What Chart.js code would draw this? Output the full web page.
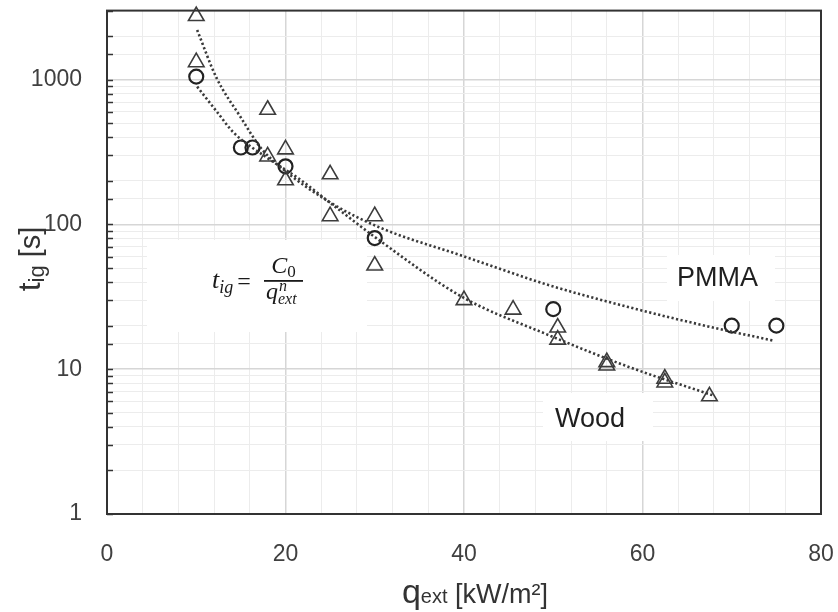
<!DOCTYPE html>
<html><head><meta charset="utf-8">
<script src="https://cdn.jsdelivr.net/npm/chart.js@4/dist/chart.umd.min.js"></script>
<style>html,body{margin:0;padding:0;background:#fff}#wrap{width:838px;height:612px}</style>
</head><body><div id="wrap"><canvas id="c" width="838" height="612"></canvas></div>
<script>
// ---- data ----
const triX = [10, 10, 18, 18, 20, 20, 25, 25, 30, 30, 40, 45.5, 50.5, 50.5, 56, 56, 62.5, 62.5, 67.5];
const triY = [2750, 1320, 620, 295, 330, 202, 222, 114, 114, 52, 30, 25.8, 19.4, 16, 11.2, 10.6, 8.6, 8.1, 6.5];
const circX = [10, 15, 16.3, 20, 30, 50, 70, 75];
const circY = [1050, 340, 340, 252, 80.5, 26, 20, 20];
const pmmaFitX = [10.1, 12.3, 14.9, 17.2, 19.4, 25, 30.6, 39.9, 49.2, 58.6, 67.9, 74.8];
const pmmaFitY = [2200, 1020, 560, 340, 250, 142, 95, 60.5, 38.6, 26.7, 19.4, 15.7];
const woodFitX = [10.1, 12.3, 14.2, 17.9, 21.6, 25.4, 30.6, 39.9, 49.2, 58.6, 67.9];
const woodFitY = [895, 602, 430, 290, 205, 135, 77, 31.3, 17.5, 10.3, 6.6];
const xTickLabels = [0, 20, 40, 60, 80];
const yTickLabels = [1, 10, 100, 1000];
const labelPMMA = 'PMMA';
const labelWood = 'Wood';

const pts = (xs, ys) => xs.map((x, i) => ({ x: x, y: ys[i] }));
const isDecade = v => Math.abs(Math.log10(v) - Math.round(Math.log10(v))) < 1e-9;
const SANS = '"Liberation Sans", Arial, sans-serif';
const SERIF = '"Liberation Serif", "DejaVu Serif", serif';

function drawSeq(ctx, x, y, parts) {
  let cx = x;
  for (const p of parts) {
    ctx.font = p[1];
    ctx.fillText(p[0], cx, y + (p[2] || 0));
    cx += ctx.measureText(p[0]).width;
  }
  return cx;
}
function seqWidth(ctx, parts) {
  let w = 0;
  for (const p of parts) { ctx.font = p[1]; w += ctx.measureText(p[0]).width; }
  return w;
}

const decor = {
  id: 'decor',
  beforeDatasetsDraw(chart) {
    const ctx = chart.ctx;
    ctx.save();
    ctx.fillStyle = '#ffffff';
    ctx.fillRect(147, 240, 220, 92);
    ctx.fillRect(667, 255, 108, 46);
    ctx.fillRect(543, 393, 110, 48);
    ctx.restore();
  },
  afterDatasetsDraw(chart) {
    const ctx = chart.ctx;
    ctx.save();
    ctx.fillStyle = '#1a1a1a';
    ctx.textBaseline = 'alphabetic';
    ctx.textAlign = 'left';
    // formula
    let x = drawSeq(ctx, 212, 288, [['t', 'italic 26px ' + SERIF], ['ig', 'italic 18px ' + SERIF, 5]]);
    ctx.font = '24px ' + SERIF;
    ctx.fillText('=', x + 4, 289);
    const fx0 = 264, fx1 = 303;
    ctx.fillRect(fx0, 280, fx1 - fx0, 1.8);
    const numParts = [['C', 'italic 24px ' + SERIF], ['0', '17px ' + SERIF, 4]];
    drawSeq(ctx, (fx0 + fx1) / 2 - seqWidth(ctx, numParts) / 2, 273, numParts);
    ctx.font = 'italic 24px ' + SERIF;
    ctx.fillText('q', 266, 299);
    const qw = ctx.measureText('q').width;
    ctx.font = 'italic 16px ' + SERIF;
    ctx.fillText('n', 266 + qw + 1, 291);
    ctx.fillText('ext', 266 + qw, 304);
    // labels
    ctx.fillStyle = '#1f1f1f';
    ctx.font = '27px ' + SANS;
    ctx.fillText(labelPMMA, 677, 286);
    ctx.fillText(labelWood, 555, 427);
    ctx.restore();
  },
  afterDraw(chart) {
    const ctx = chart.ctx;
    const a = chart.chartArea;
    const ys = chart.scales.y;
    ctx.save();
    ctx.strokeStyle = '#333';
    ctx.lineWidth = 1.5;
    for (const t of ys.ticks) {
      const py = Math.round(ys.getPixelForValue(t.value)) + 0.5;
      ctx.beginPath();
      ctx.moveTo(a.left, py);
      ctx.lineTo(a.left + 6, py);
      ctx.stroke();
    }
    ctx.strokeStyle = '#333';
    ctx.lineWidth = 2;
    ctx.strokeRect(a.left, a.top, a.right - a.left, a.bottom - a.top);
    ctx.fillStyle = '#333';
    ctx.textBaseline = 'alphabetic';
    const xt = [['q', '34px ' + SANS], ['ext', '20px ' + SANS], [' [kW/m\u00B2]', '27px ' + SANS]];
    const w = seqWidth(ctx, xt);
    drawSeq(ctx, 548 - w, 603, xt);
    ctx.translate(40, 259);
    ctx.rotate(-Math.PI / 2);
    const yt = [['t', '32px ' + SANS], ['ig', '22px ' + SANS, 4], [' [s]', '29px ' + SANS]];
    const w2 = seqWidth(ctx, yt);
    drawSeq(ctx, -w2 / 2, 0, yt);
    ctx.restore();
  }
};

const dotted = { showLine: true, pointRadius: 0, borderColor: '#3a3a3a', borderWidth: 2.6,
  borderDash: [2.2, 2.4], fill: false, cubicInterpolationMode: 'monotone' };

new Chart(document.getElementById('c'), {
  type: 'scatter',
  data: {
    datasets: [
      Object.assign({ label: 'PMMA fit', data: pts(pmmaFitX, pmmaFitY) }, dotted),
      Object.assign({ label: 'Wood fit', data: pts(woodFitX, woodFitY) }, dotted),
      { label: 'Triangles', data: pts(triX, triY), pointStyle: 'triangle', pointRadius: 9, clip: false,
        backgroundColor: 'rgba(0,0,0,0)', borderColor: '#3c3c3c', borderWidth: 1.6 },
      { label: 'Circles', data: pts(circX, circY), pointStyle: 'circle', pointRadius: 7, clip: false,
        backgroundColor: 'rgba(0,0,0,0)', borderColor: '#222', borderWidth: 2.2 }
    ]
  },
  options: {
    responsive: false, animation: false, devicePixelRatio: 1,
    layout: { padding: { top: 10, right: 17, left: 0, bottom: 0 } },
    plugins: { legend: { display: false }, tooltip: { enabled: false } },
    scales: {
      x: {
        type: 'linear', min: 0, max: 80,
        afterFit: s => { s.height = 98; s.paddingLeft = 0; s.paddingRight = 0; },
        border: { display: false },
        grid: { drawTicks: false,
          color: c => (c.tick && c.tick.value % 20 === 0) ? '#d6d6d6' : '#ececec',
          lineWidth: c => (c.tick && c.tick.value % 20 === 0) ? 1.5 : 1 },
        ticks: { stepSize: 4, autoSkip: false, maxRotation: 0, padding: 27, color: '#404040',
          font: { family: SANS, size: 23 },
          callback: v => xTickLabels.includes(v) ? String(v) : '' }
      },
      y: {
        type: 'logarithmic', min: 1, max: 3000,
        afterFit: s => { s.width = 107; s.paddingTop = 0; s.paddingBottom = 0; },
        border: { display: false },
        grid: { drawTicks: false,
          color: c => (c.tick && isDecade(c.tick.value)) ? '#d6d6d6' : '#ececec',
          lineWidth: c => (c.tick && isDecade(c.tick.value)) ? 1.5 : 1 },
        ticks: { autoSkip: false, padding: 25, color: '#404040',
          font: { family: SANS, size: 23 },
          callback: v => yTickLabels.includes(v) ? String(v) : '' }
      }
    }
  },
  plugins: [decor]
});
</script></body></html>
